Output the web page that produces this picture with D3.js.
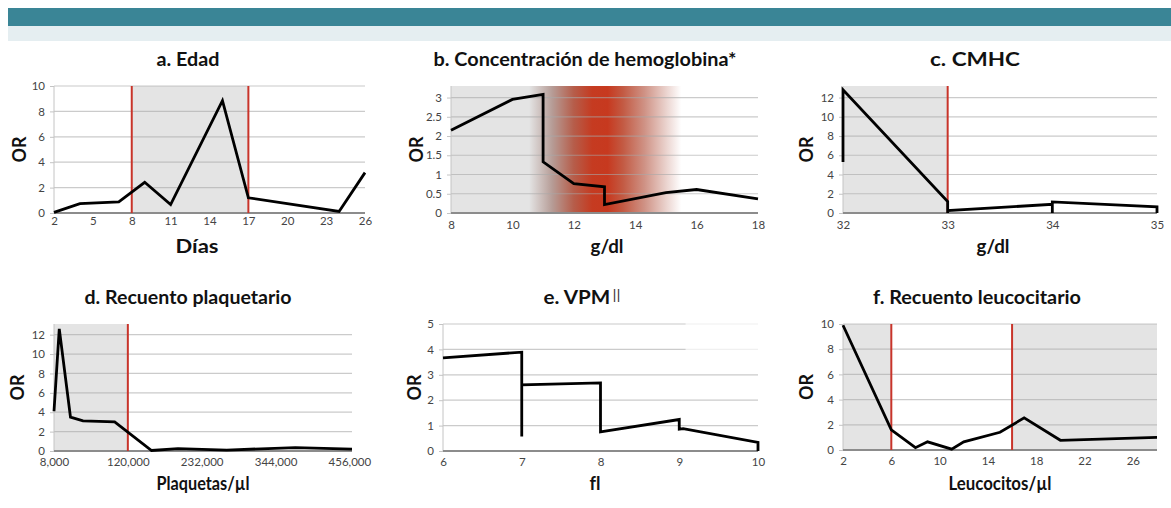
<!DOCTYPE html>
<html>
<head>
<meta charset="utf-8">
<script src="https://cdn.jsdelivr.net/npm/d3@7"></script>
<style>
  html, body { margin: 0; padding: 0; background: #ffffff; }
  svg { display: block; }
  text { font-variant-ligatures: none; font-feature-settings: "liga" 0, "clig" 0; }
</style>
</head>
<body>
<svg id="chart" width="1171" height="508"></svg>
<script>
// ---------- DATA ----------
const titles = ["a. Edad", "b. Concentración de hemoglobina*", "c. CMHC",
                "d. Recuento plaquetario", "e. VPM||", "f. Recuento leucocitario"];
const xLabels = ["Días", "g/dl", "g/dl", "Plaquetas/µl", "fl", "Leucocitos/µl"];
const yLabel = "OR";

const xTicksA = [2, 5, 8, 11, 14, 17, 20, 23, 26];
const yTicksA = [0, 2, 4, 6, 8, 10];
const seriesA = [[2, 0.05], [4, 0.74], [7, 0.87], [9, 2.42], [11, 0.66], [15, 8.84], [17, 1.2], [24, 0.12], [26, 3.18]];
const shadeA = [[8, 17]];
const redA = [8, 17];

const xTicksB = [8, 10, 12, 14, 16, 18];
const yTicksB = [0, 0.5, 1, 1.5, 2, 2.5, 3];
const seriesB = [[8, 2.15], [10, 2.95], [11, 3.08], [11, 1.33], [12, 0.76], [13, 0.68], [13, 0.22], [15, 0.53], [16, 0.61], [18, 0.37]];
const shadeB = [[8, 10.6]];
const gradB = [[10.55, "#e3e3e3"], [11.3, "#b69c96"], [12.0, "#b65d4a"], [12.6, "#c53b21"], [13.1, "#c7391f"], [13.6, "#c35a43"], [14.3, "#cf9285"], [15.0, "#ead2cd"], [15.5, "#ffffff"]];

const xTicksC = [32, 33, 34, 35];
const yTicksC = [0, 2, 4, 6, 8, 10, 12];
const seriesC = [[32, 5.3], [32, 12.8], [33, 1.2], [33, 0], [33, 0.25], [34, 0.9], [34, 0], [34, 1.15], [35, 0.65], [35, 0]];
const shadeC = [[32, 33]];
const redC = [33];

const xTicksD = [8000, 120000, 232000, 344000, 456000];
const yTicksD = [0, 2, 4, 6, 8, 10, 12];
const seriesD = [[8000, 4.1], [16000, 12.6], [33000, 3.5], [52000, 3.1], [100000, 3.0], [156000, 0.05], [196000, 0.25], [270000, 0.1], [374000, 0.35], [460000, 0.2]];
const shadeD = [[8000, 120000]];
const redD = [120000];

const xTicksE = [6, 7, 8, 9, 10];
const yTicksE = [0, 1, 2, 3, 4, 5];
const seriesE = [[6, 3.67], [7, 3.89], [7, 0.57], [7, 2.6], [8, 2.68], [8, 0.75], [9, 1.24], [9, 0.86], [9.05, 0.88], [10, 0.34], [10, 0]];

const xTicksF = [2, 6, 10, 14, 18, 22, 26];
const yTicksF = [0, 2, 4, 6, 8, 10];
const seriesF = [[2, 9.9], [6, 1.6], [8, 0.18], [9, 0.65], [11, 0.07], [12, 0.65], [15, 1.41], [17, 2.55], [20, 0.77], [28, 1.0]];
const shadeF = [[2, 6], [16, 28]];
const redF = [6, 16];

// ---------- LAYOUT (positions / styles) ----------
const panels = [
  { title: titles[0], xl: xLabels[0], L: 54, R: 365, T: 86, B: 213, xd: [2, 26], yd: [0, 10], xt: xTicksA, yt: yTicksA, s: seriesA, shade: shadeA, red: redA, tx: 188, ty: 66, tw: 63, lx: 197, ly: 253, lw: 43, ox: 20, tkOff: 13, fmt: d3.format("d") },
  { title: titles[1], xl: xLabels[1], L: 451, R: 758, T: 86, B: 213, xd: [8, 18], yd: [0, 3.3], xt: xTicksB, yt: yTicksB, s: seriesB, shade: shadeB, red: [], grad: gradB, tx: 585, ty: 66, tw: 303, lx: 607, ly: 253, lw: 33, ox: 417, tkOff: 17, fmt: d3.format("d") },
  { title: titles[2], xl: xLabels[2], L: 843, R: 1157, T: 86, B: 213, xd: [32, 35], yd: [0, 13.2], xt: xTicksC, yt: yTicksC, s: seriesC, shade: shadeC, red: redC, tx: 975, ty: 66, tw: 90, lx: 993, ly: 253, lw: 33, ox: 807, tkOff: 17, fmt: d3.format("d") },
  { title: titles[3], xl: xLabels[3], L: 54, R: 352, T: 324, B: 451, xd: [8000, 460000], yd: [0, 13.1], xt: xTicksD, yt: yTicksD, s: seriesD, shade: shadeD, red: redD, tx: 188, ty: 304, tw: 207, lx: 203, ly: 490, lw: 93, ox: 18, tkOff: 16, fmt: d3.format(",") },
  { title: titles[4], xl: xLabels[4], L: 443, R: 758, T: 324, B: 451, xd: [6, 10], yd: [0, 5], xt: xTicksE, yt: yTicksE, s: seriesE, shade: [], red: [], fade: [9.08, 3.5], tx: 582, ty: 304, tw: 77, lx: 595, ly: 490, lw: null, ox: 415, tkOff: 16, fmt: d3.format("d") },
  { title: titles[5], xl: xLabels[5], L: 843, R: 1157, T: 324, B: 450, xd: [2, 28], yd: [0, 10], xt: xTicksF, yt: yTicksF, s: seriesF, shade: shadeF, red: redF, tx: 977, ty: 304, tw: 208, lx: 1000, ly: 490, lw: 103, ox: 807, tkOff: 16, fmt: d3.format("d") }
];

const svg = d3.select("#chart");
const FONT = "Lato, 'Open Sans', sans-serif";

// header bands
svg.append("rect").attr("x", 8).attr("y", 8).attr("width", 1163).attr("height", 18).attr("fill", "#3a8596");
svg.append("rect").attr("x", 8).attr("y", 26).attr("width", 1163).attr("height", 15).attr("fill", "#e5eef1");

const defs = svg.append("defs");

panels.forEach((p, i) => {
  const x = d3.scaleLinear().domain(p.xd).range([p.L, p.R]);
  const y = d3.scaleLinear().domain(p.yd).range([p.B, p.T]);
  const g = svg.append("g");

  // shaded bands
  p.shade.forEach(([a, b]) => {
    g.append("rect").attr("x", x(a)).attr("y", p.T).attr("width", x(b) - x(a)).attr("height", p.B - p.T).attr("fill", "#e4e4e4");
  });

  // gradient band (panel b)
  if (p.grad) {
    const x0 = p.grad[0][0], x1 = p.grad[p.grad.length - 1][0];
    const lg = defs.append("linearGradient").attr("id", "grad" + i)
      .attr("gradientUnits", "userSpaceOnUse")
      .attr("x1", x(x0)).attr("x2", x(x1)).attr("y1", 0).attr("y2", 0);
    p.grad.forEach(([v, c]) => {
      lg.append("stop").attr("offset", (x(v) - x(x0)) / (x(x1) - x(x0))).attr("stop-color", c);
    });
    g.append("rect").attr("x", x(x0)).attr("y", p.T).attr("width", x(x1) - x(x0)).attr("height", p.B - p.T).attr("fill", "url(#grad" + i + ")");
  }

  // gridlines
  p.yt.filter(v => v !== 0).forEach(v => {
    g.append("line").attr("x1", p.L).attr("x2", p.R).attr("y1", y(v)).attr("y2", y(v))
      .attr("stroke", "#a8a8a8").attr("stroke-opacity", 0.6).attr("stroke-width", 1.2);
  });

  // faded gridline area (panel e)
  if (p.fade) {
    g.append("rect").attr("x", x(p.fade[0])).attr("y", p.T - 2).attr("width", p.R - x(p.fade[0]) + 2)
      .attr("height", y(p.fade[1]) - p.T + 2).attr("fill", "#ffffff").attr("opacity", 0.7);
  }

  // y axis
  const yAxis = d3.axisLeft(y).tickValues(p.yt).tickSize(4).tickPadding(5)
    .tickFormat(v => String(v));
  const ya = g.append("g").attr("transform", `translate(${p.L},0)`).call(yAxis);
  ya.select(".domain").attr("stroke", "#c4c4c4").attr("d", `M0,${p.B}V${p.T}`);
  ya.selectAll(".tick line").attr("stroke", "#c4c4c4");
  ya.selectAll("text").attr("font-family", FONT).attr("font-size", 11.5).attr("fill", "#444");

  // x axis
  const xAxis = d3.axisBottom(x).tickValues(p.xt).tickSize(0).tickPadding(p.tkOff - 9)
    .tickFormat(p.fmt);
  const xa = g.append("g").attr("transform", `translate(0,${p.B})`).call(xAxis);
  xa.select(".domain").remove();
  xa.selectAll("text").attr("font-family", FONT).attr("font-size", 11.5).attr("fill", "#444");

  // baseline
  g.append("line").attr("x1", p.L).attr("x2", p.R).attr("y1", y(0)).attr("y2", y(0))
    .attr("stroke", "#8c8c8c").attr("stroke-width", 2.2);

  // red vertical lines
  p.red.forEach(v => {
    g.append("line").attr("x1", x(v)).attr("x2", x(v)).attr("y1", p.T).attr("y2", p.B)
      .attr("stroke", "#c8342a").attr("stroke-width", 2);
  });

  // series line
  const line = d3.line().x(d => x(d[0])).y(d => y(d[1]));
  g.append("path").datum(p.s).attr("d", line).attr("fill", "none")
    .attr("stroke", "#000").attr("stroke-width", 2.8).attr("stroke-linejoin", "miter").attr("stroke-miterlimit", 3);

  // title (footnote marks "||" drawn thin and raised)
  const tt = g.append("text").attr("x", p.tx).attr("y", p.ty).attr("text-anchor", "middle")
    .attr("font-family", FONT).attr("font-weight", "bold").attr("font-size", 18).attr("fill", "#111")
    .attr("textLength", p.tw).attr("lengthAdjust", "spacingAndGlyphs");
  const parts = p.title.split("||");
  if (parts.length > 1) {
    tt.append("tspan").text(parts[0]);
    tt.append("tspan").attr("font-weight", "normal").attr("font-size", 14).attr("fill", "#333")
      .attr("dy", -4).attr("dx", 2).text("||");
  } else {
    tt.text(p.title);
  }

  // x label
  const xlText = g.append("text").attr("x", p.lx).attr("y", p.ly).attr("text-anchor", "middle")
    .attr("font-family", FONT).attr("font-weight", "bold").attr("font-size", 18).attr("fill", "#111")
    .text(p.xl);
  if (p.lw) xlText.attr("textLength", p.lw).attr("lengthAdjust", "spacingAndGlyphs");

  // y label
  const cy = (p.T + p.B) / 2;
  g.append("text").attr("transform", `translate(${p.ox + 6},${cy}) rotate(-90)`).attr("text-anchor", "middle")
    .attr("font-family", FONT).attr("font-weight", "bold").attr("font-size", 18).attr("fill", "#111")
    .attr("textLength", 26).attr("lengthAdjust", "spacingAndGlyphs")
    .text(yLabel);
});
</script>
</body>
</html>
